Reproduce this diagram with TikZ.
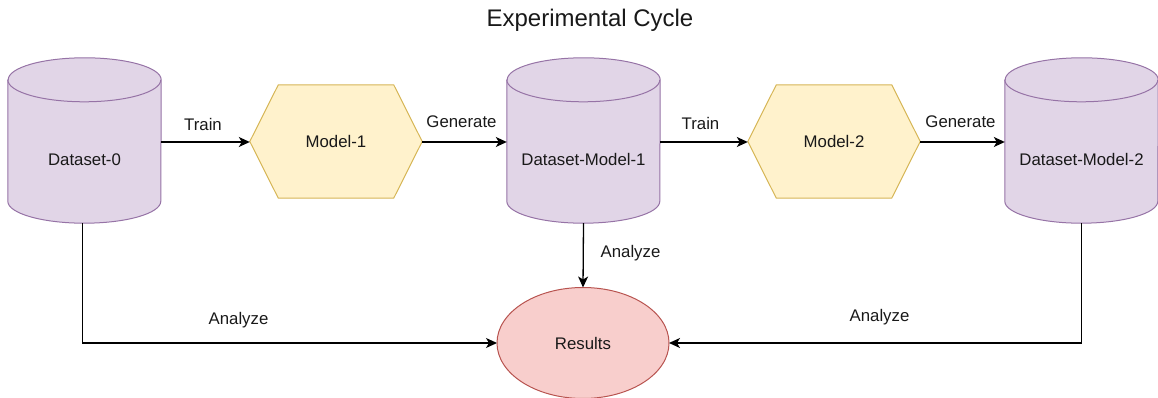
\documentclass[tikz,border=0pt]{standalone}
\usepackage{fontspec}
\setmainfont{Liberation Sans}
\usetikzlibrary{arrows.meta}

\definecolor{dsfill}{HTML}{E1D5E7}
\definecolor{dsline}{HTML}{9673A6}
\definecolor{mdfill}{HTML}{FFF2CC}
\definecolor{mdline}{HTML}{D6B656}
\definecolor{rsfill}{HTML}{F8CECC}
\definecolor{rsline}{HTML}{B85450}

\tikzset{
  cylbox/.style={minimum width=153pt, minimum height=165pt, inner sep=0pt, draw=none},
  cylshape/.style={fill=dsfill, draw=dsline, line width=1pt},
  hexbox/.style={minimum width=172pt, minimum height=113pt, inner sep=0pt, draw=none},
  hexshape/.style={fill=mdfill, draw=mdline, line width=1pt},
  lbl/.style={font=\fontsize{16.8}{19}\selectfont, text=black!90, inner sep=0pt},
  flow/.style={line width=1.3pt, -{Stealth[length=11pt, width=10pt, inset=3pt]}},
}

% cylinder: #1 name, #2 centre x, #3 text
\newcommand\dbcyl[3]{%
  \node[cylbox] (#1) at (#2,257.5) {};
  \filldraw[cylshape] ([yshift=-22pt]#1.north west) -- ([yshift=22pt]#1.south west)
    arc[start angle=180, end angle=360, x radius=76.5pt, y radius=22pt]
    -- ([yshift=-22pt]#1.north east)
    arc[start angle=0, end angle=180, x radius=76.5pt, y radius=22pt] -- cycle;
  \draw[dsline, line width=1pt] ([yshift=-22pt]#1.north west)
    arc[start angle=180, end angle=360, x radius=76.5pt, y radius=22pt];
  \node[lbl] (#1-text) at ([yshift=-19.5pt]#1.center) {#3};
}

% hexagon: #1 name, #2 centre x, #3 text
\newcommand\mdhex[3]{%
  \node[hexbox] (#1) at (#2,256.5) {};
  \filldraw[hexshape] (#1.west) -- ([xshift=28.5pt]#1.north west)
    -- ([xshift=-28.5pt]#1.north east) -- (#1.east)
    -- ([xshift=-28.5pt]#1.south east) -- ([xshift=28.5pt]#1.south west) -- cycle;
  \node[lbl] (#1-text) at (#1.center) {#3};
}

\begin{document}
\begin{tikzpicture}[x=1pt, y=1pt]
  \useasboundingbox (0,0) rectangle (1158,398);

  \node[font=\fontsize{24}{28}\selectfont, text=black!90, inner sep=0pt] (title) at (590,378) {Experimental Cycle};

  \dbcyl{d0}{84.5}{Dataset-0}
  \mdhex{m1}{336}{Model-1}
  \dbcyl{d1}{583.5}{Dataset-Model-1}
  \mdhex{m2}{834}{Model-2}
  \dbcyl{d2}{1081.5}{Dataset-Model-2}

  \draw[draw=rsline, fill=rsfill, line width=1pt] (583,55) ellipse[x radius=86pt, y radius=55.5pt];
  \node[lbl, minimum width=172pt, minimum height=111pt, shape=rectangle] (res) at (583,55) {Results};
  \coordinate (res-w) at (497,55);
  \coordinate (res-e) at (669,55);
  \coordinate (res-n) at (583,110.5);

  % training / generation chain
  \draw[flow] (d0.east |- 0,256) -- (m1.west |- 0,256);
  \draw[flow] (m1.east |- 0,256) -- (d1.west |- 0,256);
  \draw[flow] (d1.east |- 0,256) -- (m2.west |- 0,256);
  \draw[flow] (m2.east |- 0,256) -- (d2.west |- 0,256);

  \node[lbl] (l1) at (203,273) {Train};
  \node[lbl] (l2) at (461.5,276) {Generate};
  \node[lbl] (l3) at (700.5,274) {Train};
  \node[lbl] (l4) at (960.5,276) {Generate};

  % analysis
  \draw[flow] ([xshift=-2pt]d0.south) |- (res-w);
  \draw[flow] (d1.south) -- (res-n);
  \draw[flow] (d2.south) |- (res-e);

  \node[lbl] (a0) at (238.5,78) {Analyze};
  \node[lbl] (a1) at (630.5,145) {Analyze};
  \node[lbl] (a2) at (879.5,81) {Analyze};
\end{tikzpicture}
\end{document}
